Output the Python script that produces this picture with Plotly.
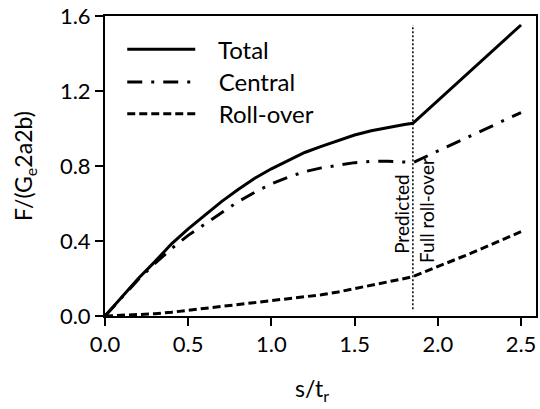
import plotly.graph_objects as go

# ---- data ----
s_curve = [0.0, 0.1, 0.2, 0.3, 0.4, 0.5, 0.6, 0.7, 0.8, 0.9, 1.0, 1.1, 1.2, 1.3,
           1.4, 1.5, 1.6, 1.7, 1.8, 1.85, 2.5]
total = [0.0, 0.10, 0.20, 0.29, 0.385, 0.465, 0.54, 0.61, 0.675, 0.735, 0.785,
         0.83, 0.872, 0.905, 0.937, 0.965, 0.988, 1.006, 1.021, 1.028, 1.552]
central = [0.0, 0.10, 0.195, 0.28, 0.36, 0.43, 0.49, 0.55, 0.61, 0.66, 0.705,
           0.74, 0.77, 0.79, 0.806, 0.818, 0.825, 0.826, 0.821, 0.818, 1.085]
s_roll = [0.0, 0.1, 0.2, 0.3, 0.4, 0.5, 0.6, 0.7, 0.8, 0.9, 1.0, 1.1, 1.2, 1.3,
          1.4, 1.5, 1.6, 1.7, 1.8, 1.85, 2.0, 2.2, 2.5]
rollover = [0.0, 0.003, 0.007, 0.012, 0.02, 0.03, 0.04, 0.05, 0.06, 0.07, 0.08,
            0.09, 0.10, 0.113, 0.128, 0.145, 0.163, 0.182, 0.20, 0.21, 0.263,
            0.335, 0.45]
full_rollover_s = [1.85, 1.85]
full_rollover_y = [0.036, 1.552]

series_names = ["Total", "Central", "Roll-over"]
x_ticks = [0.0, 0.5, 1.0, 1.5, 2.0, 2.5]
x_tick_labels = ["0.0", "0.5", "1.0", "1.5", "2.0", "2.5"]
y_ticks = [0.0, 0.4, 0.8, 1.2, 1.6]
y_tick_labels = ["0.0", "0.4", "0.8", "1.2", "1.6"]
x_title = "s/t<sub>r</sub>"
y_title = "F/(G<sub>e</sub>2a2b)"

FONT = "Lato, Carlito, Calibri, sans-serif"
PAD = "\u00a0\u00a0\u00a0"

fig = go.Figure()
fig.add_trace(go.Scatter(x=s_curve, y=total, mode="lines", name=PAD + series_names[0],
                         line=dict(color="black", width=3), legend="legend"))
fig.add_trace(go.Scatter(x=s_curve, y=central, mode="lines", name=PAD + series_names[1],
                         line=dict(color="black", width=3, dash="15px,9px,3px,9px"),
                         legend="legend2"))
fig.add_trace(go.Scatter(x=s_roll, y=rollover, mode="lines", name=PAD + series_names[2],
                         line=dict(color="black", width=3, dash="8px,4px"),
                         legend="legend3"))
fig.add_trace(go.Scatter(x=full_rollover_s, y=full_rollover_y, mode="lines",
                         showlegend=False,
                         line=dict(color="black", width=1.5, dash="2px,2px")))

fig.add_annotation(x=full_rollover_s[0], y=0.544, text="Predicted", textangle=-90,
                   showarrow=False, xshift=-12, font=dict(family=FONT, size=19, color="black"))
fig.add_annotation(x=full_rollover_s[0], y=0.565, text="Full roll-over", textangle=-90,
                   showarrow=False, xshift=13, font=dict(family=FONT, size=19, color="black"))

# axis titles
fig.add_annotation(xref="paper", yref="paper", x=-0.188, y=0.5, text=y_title, textangle=-90,
                   showarrow=False, xanchor="center", yanchor="middle",
                   font=dict(family=FONT, size=23, color="black"))
fig.add_annotation(xref="paper", yref="paper", x=0.48, y=-0.246, text=x_title,
                   showarrow=False, xanchor="center", yanchor="middle",
                   font=dict(family=FONT, size=23, color="black"))

axis_common = dict(showgrid=False, zeroline=False, showline=True, linecolor="black",
                   linewidth=2, mirror=True, ticks="outside", ticklen=8, tickwidth=2,
                   tickcolor="black", tickfont=dict(family=FONT, size=22, color="black"))

legend_common = dict(x=0.04, xanchor="left", yanchor="top", bgcolor="rgba(0,0,0,0)",
                     font=dict(family=FONT, size=24, color="black"), itemwidth=68)

fig.update_layout(
    width=540, height=409,
    margin=dict(l=105, r=2, t=15, b=93),
    paper_bgcolor="white", plot_bgcolor="white",
    showlegend=True,
    legend=dict(y=0.963, **legend_common),
    legend2=dict(y=0.854, **legend_common),
    legend3=dict(y=0.7475, **legend_common),
    xaxis=dict(range=[0, 2.59], tickvals=x_ticks, ticktext=x_tick_labels,
               **axis_common),
    yaxis=dict(range=[0, 1.6], tickvals=y_ticks, ticktext=y_tick_labels,
               ticksuffix="\u00a0\u00a0\u00a0",
               **axis_common),
)

fig.write_html("out.html", config={"displayModeBar": False},
               post_script="document.body.style.margin='0';")
